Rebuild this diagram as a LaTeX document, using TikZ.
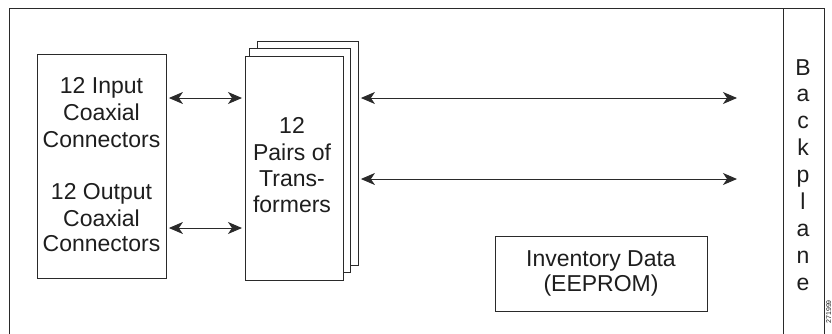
\documentclass[tikz,border=0pt]{standalone}
\usepackage{fontspec}
\setmainfont{Liberation Sans}
\usetikzlibrary{arrows.meta}
\definecolor{ln}{HTML}{2A2A2A}
\definecolor{tx}{HTML}{1E1E1E}
\tikzset{
  tip/.tip={Stealth[length=14pt,width=12pt,inset=4pt]},
  box/.style={draw=ln, line width=0.9pt, fill=white, inner sep=0pt, anchor=north west},
  lbl/.style={font=\fontsize{23}{27}\selectfont, text=tx, anchor=base, inner sep=0pt},
  dbl/.style={draw=ln, line width=1pt, {tip}-{tip}},
  frame/.style={draw=ln, line width=1pt}
}
\begin{document}
\begin{tikzpicture}[x=1pt,y=-1pt]
\useasboundingbox (0,0) rectangle (832,333);
% outer frame
\coordinate (tl) at (9,8);
\coordinate (tr) at (824,8);
\coordinate (bl) at (9,340);
\coordinate (br) at (824,340);
\coordinate (dt) at (783,8);
\coordinate (db) at (783,340);
\draw[frame] (bl) -- (tl) -- (tr) -- (br);
\draw[frame] (dt) -- (db);
% left box
\node[box, minimum width=129pt, minimum height=224pt] (lbox) at (37,54) {};
\node[lbl] (in1) at (101.5,93) {12 Input};
\node[lbl] (in2) at (101.5,120) {Coaxial};
\node[lbl] (in3) at (101.5,147) {Connectors};
\node[lbl] (out1) at (101.5,199) {12 Output};
\node[lbl] (out2) at (101.5,226) {Coaxial};
\node[lbl] (out3) at (101.5,251) {Connectors};
% transformers stack
\node[box, minimum width=101pt, minimum height=224pt] (tfb) at (257,41) {};
\node[box, minimum width=101pt, minimum height=224pt] (tfm) at (249,48) {};
\node[box, minimum width=98pt, minimum height=224pt] (tf) at (245,56) {};
\node[lbl] (t1) at (292,133) {12};
\node[lbl] (t2) at (292,160) {Pairs of};
\node[lbl] (t3) at (292,186.5) {Trans-};
\node[lbl] (t4) at (292,212.5) {formers};
% inventory
\node[box, minimum width=212pt, minimum height=75pt] (inv) at (495,236) {};
\node[lbl] (i1) at (601,266.5) {Inventory Data};
\node[lbl] (i2) at (601,291.5) {(EEPROM)};
% backplane
\node[lbl] (bp) at (803,75) {B};
\foreach \l [count=\k] in {a,c,k,p,l,a,n,e}
  \node[lbl] (bp\k) at (803,75+26.9*\k) {\l};
% arrows
\coordinate (bpa) at (737,98);
\coordinate (bpb) at (737,179);
\draw[dbl] ([xshift=2pt]lbox.east |- 0,98) -- ([xshift=-3pt]tf.west |- 0,98);
\draw[dbl] ([xshift=2pt]lbox.east |- 0,228) -- ([xshift=-3pt]tf.west |- 0,228);
\draw[dbl] ([xshift=2pt]tfb.east |- 0,98) -- (bpa);
\draw[dbl] ([xshift=2pt]tfb.east |- 0,179) -- (bpb);
% figure id
\node[font=\fontsize{7}{7}\selectfont, text=tx, rotate=90, anchor=north east, inner sep=0pt] (fid) at (826,300) {271999};
\end{tikzpicture}
\end{document}
